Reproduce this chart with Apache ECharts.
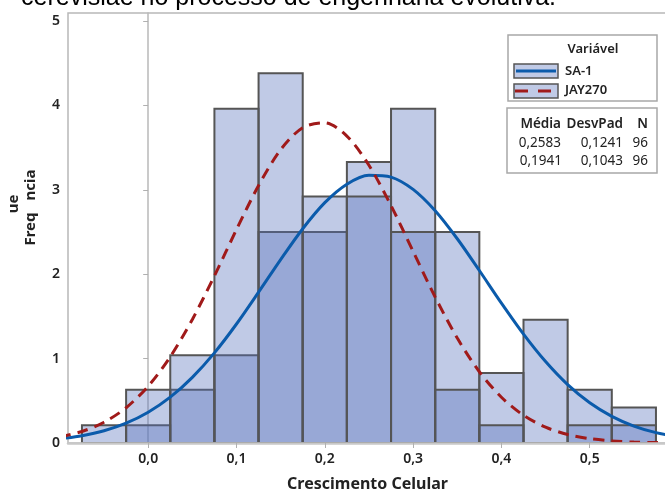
<html>
<head>
    <meta charset="utf-8">
    <title>Crescimento Celular - histograma</title>
    <script src="https://cdn.jsdelivr.net/npm/echarts@6/dist/echarts.min.js"></script>
</head>
<body style="margin: 0">
<div id="container" style="width: 665px; height: 493px"></div>
<script>
    // classes do histograma (centro da classe), largura 0,05
    var binCenters = [-0.05, 0, 0.05, 0.1, 0.15, 0.2, 0.25, 0.3, 0.35, 0.4, 0.45, 0.5, 0.55];
    var binWidth = 0.05;
    // alturas das barras (densidade)
    var sa1Dens = [0, 0.21, 0.63, 1.04, 2.5, 2.5, 3.33, 3.96, 2.5, 0.83, 1.46, 0.63, 0.42];
    var jayDens = [0.21, 0.63, 1.04, 3.96, 4.38, 2.92, 2.92, 2.5, 0.63, 0.21, 0, 0.21, 0.21];

    // curvas normais ajustadas (pontos lidos)
    var curveX = [-0.1, -0.075, -0.05, -0.025, 0, 0.025, 0.05, 0.075, 0.1, 0.125, 0.15, 0.175, 0.2, 0.225,
        0.25, 0.275, 0.3, 0.325, 0.35, 0.375, 0.4, 0.425, 0.45, 0.475, 0.5, 0.525, 0.55, 0.575, 0.6];
    var sa1Curve = [0.049, 0.086, 0.145, 0.235, 0.365, 0.543, 0.778, 1.068, 1.410, 1.787, 2.173, 2.539, 2.848, 3.067,
        3.173, 3.151, 3.005, 2.752, 2.420, 2.044, 1.657, 1.290, 0.965, 0.692, 0.477, 0.316, 0.201, 0.123, 0.072];
    var jayCurve = [0.071, 0.136, 0.246, 0.418, 0.673, 1.021, 1.464, 1.980, 2.529, 3.051, 3.475, 3.737, 3.794, 3.637,
        3.291, 2.813, 2.270, 1.729, 1.243, 0.844, 0.542, 0.328, 0.187, 0.101, 0.052, 0.025, 0.011, 0.005, 0.002];

    var xTicks = [0, 0.1, 0.2, 0.3, 0.4, 0.5];
    var yTicks = [0, 1, 2, 3, 4, 5];

    var seriesNames = ['SA-1', 'JAY270'];
    var statsHeader = ['Média', 'DesvPad', 'N'];
    var statsRows = [['0,2583', '0,1241', '96'], ['0,1941', '0,1043', '96']];

    var FONT = '"Noto Sans", "Open Sans", sans-serif';
    var blue = '#0b5bab';
    var red = '#a01a1a';

    var myChart = echarts.init(document.getElementById('container'));

    function pairs(xs, ys) {
        var res = [];
        for (var i = 0; i < xs.length; i++) {
            res.push([xs[i], ys[i]]);
        }
        return res;
    }

    // barra do histograma, de (centro - w/2) ate (centro + w/2)
    function renderBar(params, api) {
        var c = api.value(0);
        var h = api.value(1);
        if (!h) {
            return;
        }
        var p0 = api.coord([c - binWidth / 2, h]);
        var p1 = api.coord([c + binWidth / 2, 0]);
        return {
            type: 'rect',
            shape: {x: p0[0], y: p0[1], width: p1[0] - p0[0], height: p1[1] - p0[1]},
            style: {fill: 'rgba(85,112,187,0.37)', stroke: '#555555', lineWidth: 2}
        };
    }

    // texto vertical (rotulo do eixo Y, quebrado como no original)
    function vText(x, y, txt) {
        return {
            type: 'group', x: x, y: y, rotation: Math.PI / 2,
            children: [{type: 'text', x: 0, y: 0, style: {text: txt, align: 'center', verticalAlign: 'middle',
                font: 'bold 15px ' + FONT, fill: '#222'}}]
        };
    }

    // legenda e tabela de estatisticas desenhadas a mao
    var graphics = [
        // linha de titulo cortada no topo
        {type: 'text', x: 21, y: -2, style: {text: 'cerevisiae no processo de engenharia evolutiva.',
            font: '25px "Liberation Sans", Arial, sans-serif', fill: '#000', verticalAlign: 'middle'}},
        vText(31, 229, 'Freq'),
        vText(31, 185, 'ncia'),
        vText(14, 204, 'ue'),

        {type: 'rect', z: 20, shape: {x: 508, y: 35, width: 149, height: 66},
            style: {fill: '#fff', stroke: '#a8a8a8', lineWidth: 1.5}},
        {type: 'text', z: 21, x: 593, y: 49, style: {text: 'Variável', align: 'center', verticalAlign: 'middle',
            font: '600 13px ' + FONT, fill: '#222'}},
        {type: 'rect', z: 21, shape: {x: 514, y: 64, width: 44, height: 14},
            style: {fill: '#c0cae6', stroke: '#555', lineWidth: 1.5}},
        {type: 'line', z: 22, shape: {x1: 516, y1: 71, x2: 556, y2: 71}, style: {stroke: blue, lineWidth: 3}},
        {type: 'text', z: 21, x: 565, y: 71, style: {text: seriesNames[0], verticalAlign: 'middle',
            font: '600 13px ' + FONT, fill: '#222'}},
        {type: 'rect', z: 21, shape: {x: 514, y: 84, width: 44, height: 14},
            style: {fill: '#c0cae6', stroke: '#555', lineWidth: 1.5}},
        {type: 'line', z: 22, shape: {x1: 515, y1: 91, x2: 556, y2: 91},
            style: {stroke: red, lineWidth: 3, lineDash: [13, 10]}},
        {type: 'text', z: 21, x: 565, y: 90, style: {text: seriesNames[1], verticalAlign: 'middle',
            font: '600 13px ' + FONT, fill: '#222'}},

        {type: 'rect', z: 20, shape: {x: 507, y: 108, width: 150, height: 65},
            style: {fill: '#fff', stroke: '#a8a8a8', lineWidth: 1.5}}
    ];

    var colRight = [561, 623, 648];
    for (var k = 0; k < statsHeader.length; k++) {
        graphics.push({type: 'text', z: 21, x: colRight[k], y: 124, style: {text: statsHeader[k], align: 'right',
            verticalAlign: 'middle', font: '600 13.5px ' + FONT, fill: '#222'}});
        for (var r = 0; r < statsRows.length; r++) {
            graphics.push({type: 'text', z: 21, x: colRight[k] + (r === 1 && k === 0 ? 1 : 0), y: 143 + r * 18.5,
                style: {text: statsRows[r][k], align: 'right', verticalAlign: 'middle',
                    font: '13.5px ' + FONT, fill: '#222'}});
        }
    }

    var option = {
        backgroundColor: '#fff',
        animation: false,
        grid: {
            left: 68, top: 13, right: -2, bottom: 50,
            outerBoundsMode: 'none',
            show: true, borderColor: '#b8b8b8', borderWidth: 1.5, backgroundColor: 'transparent'
        },
        xAxis: {
            type: 'value',
            min: -0.0908,
            max: 0.5875,
            z: 10,
            name: 'Crescimento Celular',
            nameLocation: 'middle',
            nameGap: 33,
            nameTextStyle: {fontFamily: FONT, fontSize: 16, fontWeight: 'bold', color: '#222'},
            axisLine: {lineStyle: {color: '#c8c8c8', width: 2.5}},
            axisTick: {length: 5, lineStyle: {color: '#b0b0b0'}, customValues: xTicks},
            axisLabel: {
                margin: 9, fontFamily: FONT, fontSize: 14, fontWeight: 600, color: '#222',
                customValues: xTicks,
                formatter: function (v) {
                    return v.toFixed(1).replace('.', ',');
                }
            },
            splitLine: {show: false}
        },
        yAxis: {
            type: 'value',
            min: 0,
            max: 5.095,
            axisLine: {show: true, lineStyle: {color: '#b8b8b8', width: 1.5}},
            axisTick: {show: true, length: 5, lineStyle: {color: '#b0b0b0'}, customValues: yTicks},
            axisLabel: {
                margin: 8, fontFamily: FONT, fontSize: 14, fontWeight: 600, color: '#222',
                customValues: yTicks
            },
            splitLine: {show: false}
        },
        graphic: graphics,
        series: [
            {
                name: seriesNames[0],
                type: 'custom',
                renderItem: renderBar,
                clip: true,
                data: pairs(binCenters, sa1Dens),
                z: 2
            },
            {
                name: seriesNames[1],
                type: 'custom',
                renderItem: renderBar,
                clip: true,
                data: pairs(binCenters, jayDens),
                z: 2
            },
            {
                name: seriesNames[0],
                type: 'line',
                data: pairs(curveX, sa1Curve),
                smooth: 0.3,
                showSymbol: false,
                lineStyle: {color: blue, width: 3},
                z: 4
            },
            {
                name: seriesNames[1],
                type: 'line',
                data: pairs(curveX, jayCurve),
                smooth: 0.3,
                showSymbol: false,
                lineStyle: {color: red, width: 3, type: [11, 7]},
                z: 4
            }
        ]
    };

    myChart.setOption(option);
</script>
</body>
</html>
